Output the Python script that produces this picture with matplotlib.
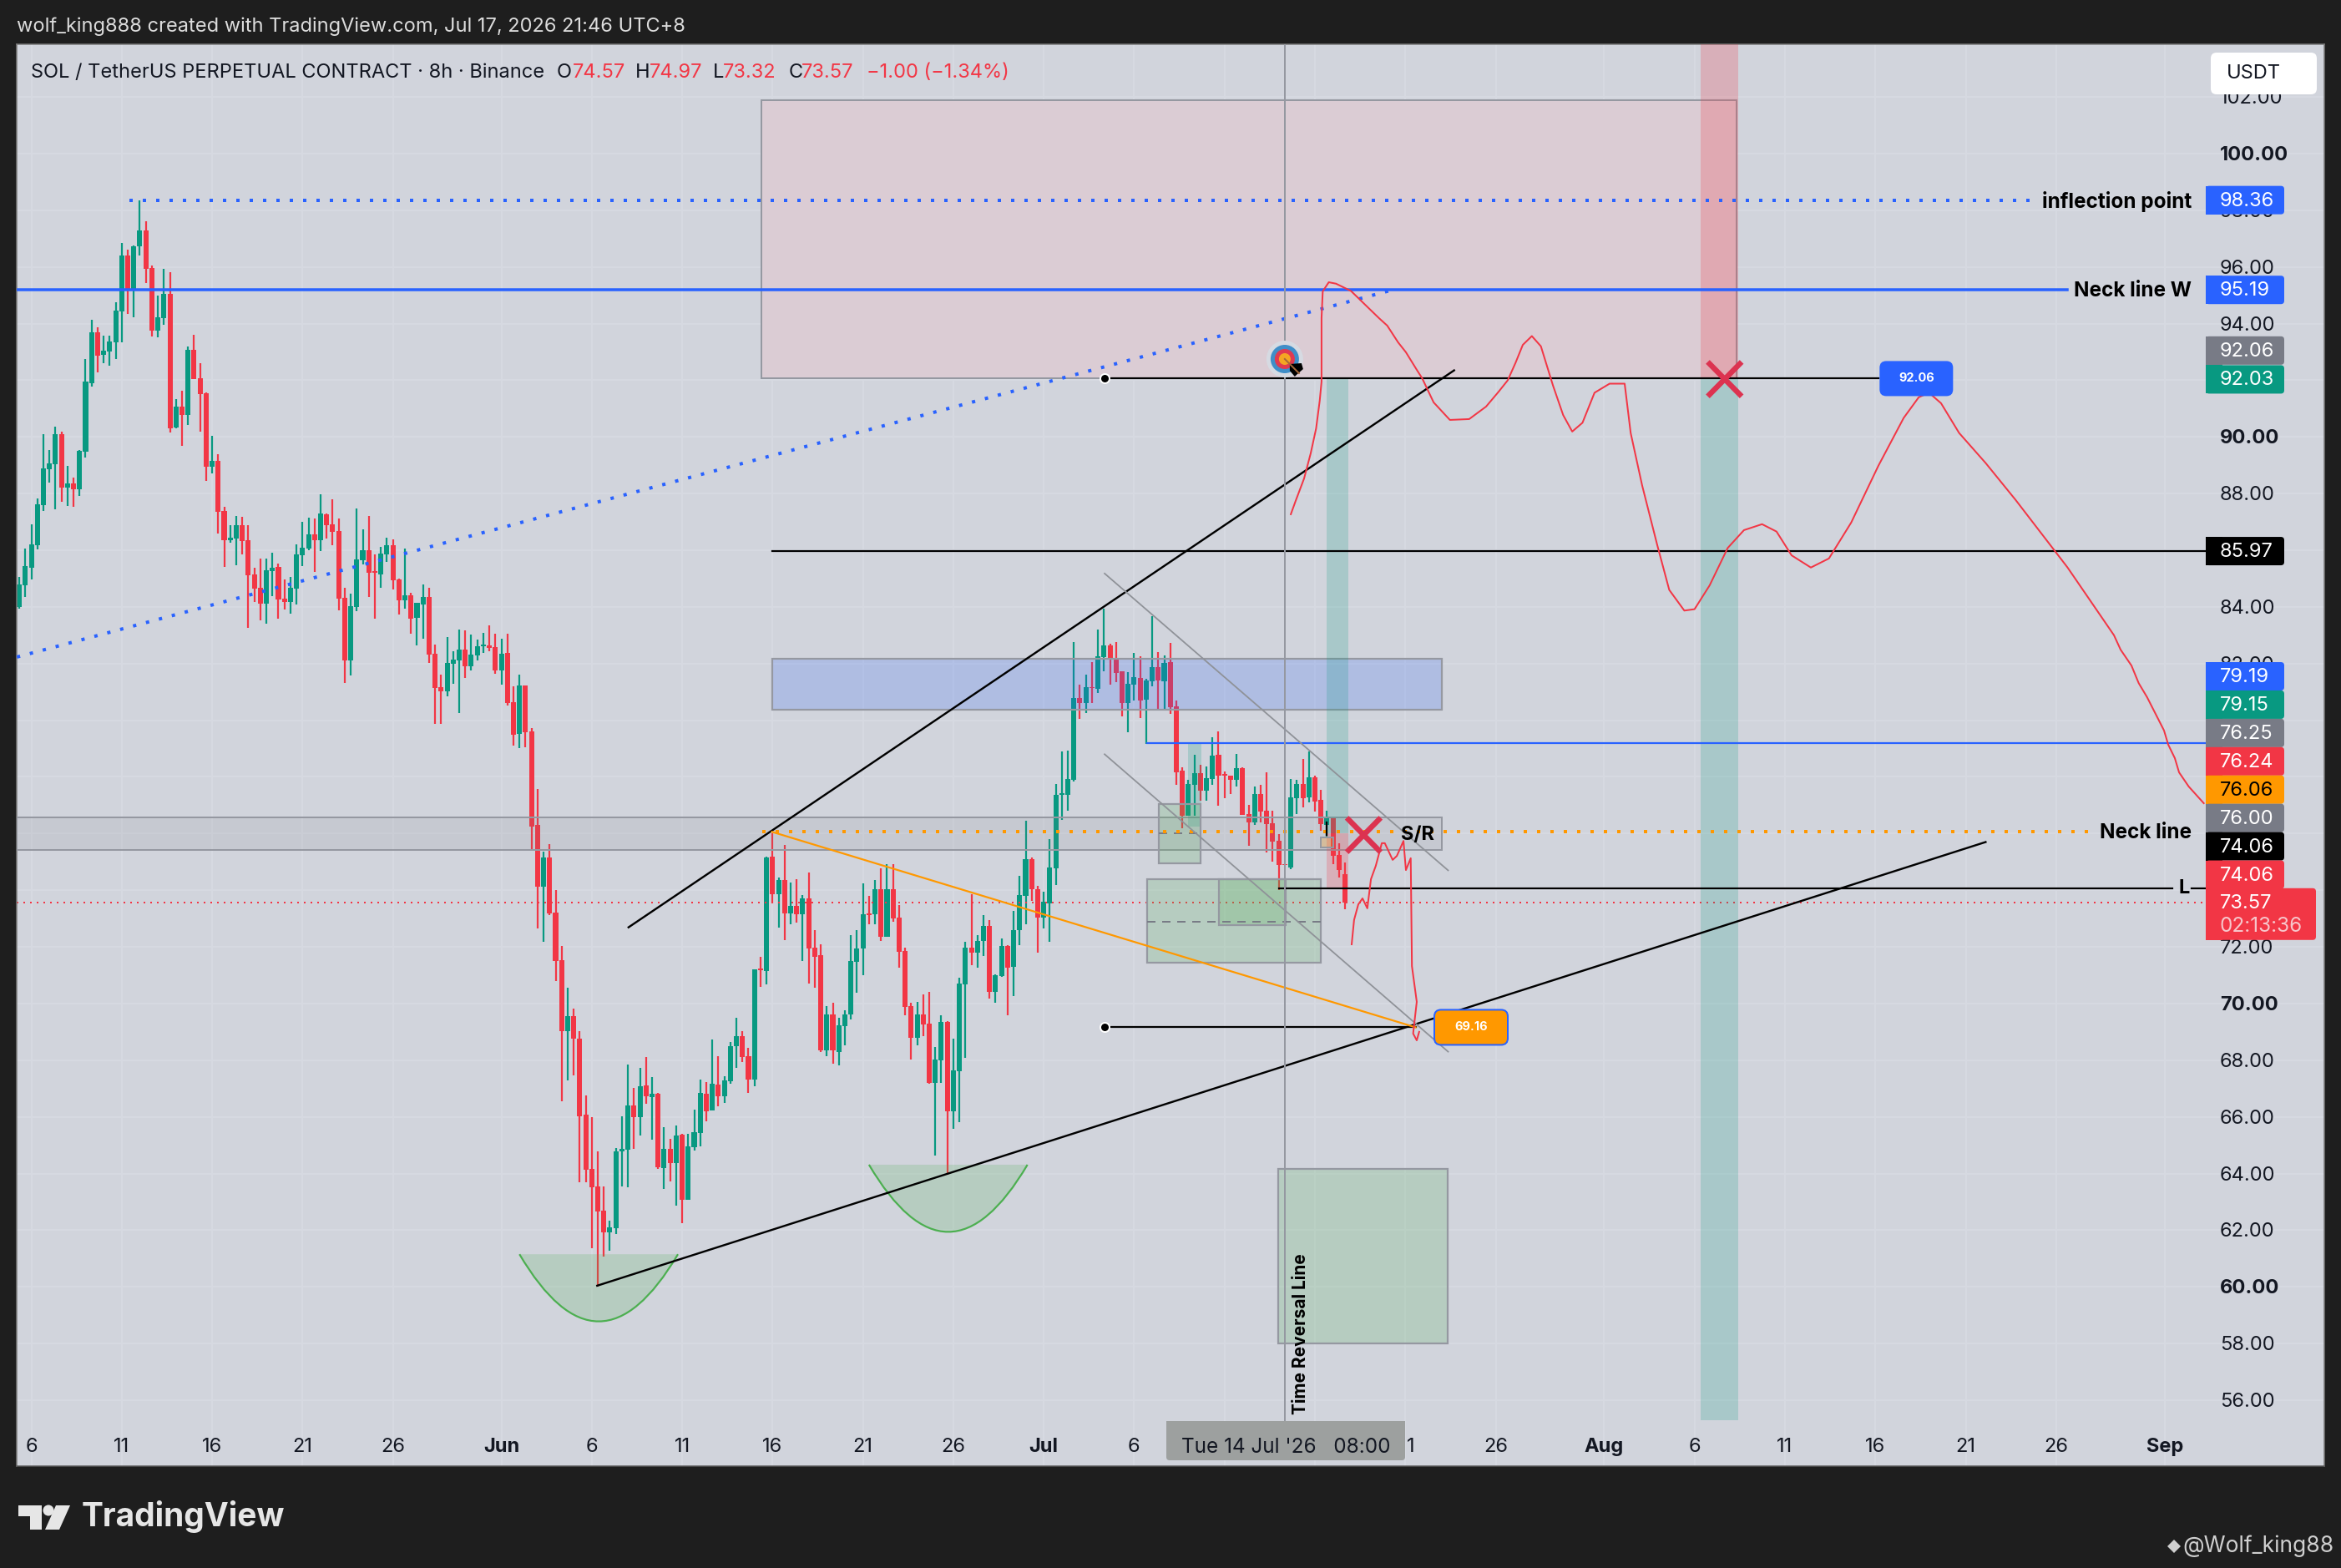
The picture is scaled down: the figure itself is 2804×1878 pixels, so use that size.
import matplotlib
matplotlib.use('Agg')
import matplotlib.pyplot as plt
import numpy as np
import pandas as pd
from matplotlib.patches import Rectangle, FancyBboxPatch, PathPatch, Polygon, Circle
from matplotlib.path import Path

plt.rcParams['font.family'] = ['Inter', 'Roboto', 'DejaVu Sans']

# 8h candles, first one is 5 May 08:00
opens = [84.00, 84.77, 85.39, 86.18, 87.60, 88.86, 89.04, 90.10, 88.21, 88.36,
         88.16, 89.48, 91.89, 93.70, 92.90, 93.01, 93.34, 94.43, 96.41, 95.21,
         96.73, 97.29, 95.97, 93.76, 94.20, 95.05, 90.34, 91.07, 90.78, 93.08,
         92.08, 91.55, 88.95, 89.15, 87.38, 86.36, 86.41, 86.89, 86.36, 85.15,
         84.68, 84.11, 85.26, 85.41, 84.29, 84.17, 84.64, 85.83, 86.05, 86.56,
         86.36, 87.27, 86.91, 86.68, 84.33, 82.12, 84.00, 85.65, 86.00, 85.26,
         85.15, 85.85, 86.18, 84.97, 84.24, 84.41, 83.62, 84.09, 84.35,
         82.34, 81.16, 81.01, 81.99, 82.11, 82.49, 81.90, 82.29, 82.61, 82.64, 82.58,
         81.75, 82.37, 80.63, 79.52, 81.22, 79.60, 76.30, 74.12, 75.15, 73.21,
         71.53, 69.03, 69.56, 68.76, 66.08, 64.16, 63.54, 62.69, 61.92, 62.07,
         64.78, 64.84, 66.40, 65.99, 67.11, 66.70, 66.82, 64.19, 64.87, 64.37,
         65.37, 63.07, 64.93, 65.43, 66.82, 66.23, 67.14, 66.73, 67.26, 68.50,
         68.85, 68.14, 67.32, 71.24, 71.15, 75.18, 73.85, 74.36, 73.18, 73.44,
         73.15, 73.71, 71.97, 71.71, 68.35, 69.62, 68.29, 69.21, 69.62, 71.47,
         71.94, 73.18, 73.15, 74.03, 72.35, 74.03, 73.03, 71.85, 69.91, 68.79,
         69.62, 69.29, 67.20, 68.00, 69.35, 66.20, 67.61, 70.68, 71.97, 71.80,
         72.21, 72.74, 70.41, 70.97, 72.03, 71.30, 72.59, 73.80, 75.09, 74.03,
         73.03, 73.53, 74.77, 77.36, 77.36, 77.89, 80.79, 80.60, 81.16, 81.10,
         82.22, 82.64, 82.14, 81.72, 80.60, 81.25, 81.49, 80.72, 81.37, 81.87,
         81.37, 82.05, 80.48, 78.22, 76.63, 77.72, 78.13, 77.51, 77.92, 78.78,
         78.10, 78.04, 77.89, 78.31, 76.69, 76.39, 77.39, 76.80, 76.36, 75.74,
         74.92, 74.80, 77.24, 77.74, 77.27, 77.98, 77.19, 76.30, 76.53, 75.24, 74.57]
closes = [84.79, 85.44, 86.21, 87.62, 88.89, 89.06, 90.10, 88.21, 88.36, 88.15,
          89.50, 91.95, 93.70, 92.86, 93.05, 93.37, 94.47, 96.41, 95.20, 96.73,
          97.29, 95.93, 93.76, 94.23, 95.05, 90.30, 91.07, 90.78, 93.08, 92.04,
          91.51, 88.95, 89.15, 87.36, 86.36, 86.45, 86.89, 86.32, 85.13, 84.64,
          84.11, 85.30, 85.39, 84.26, 84.17, 84.68, 85.85, 86.09, 86.56, 86.36,
          87.29, 86.89, 86.65, 84.29, 82.12, 84.02, 85.68, 86.00, 85.21, 85.21,
          85.88, 86.18, 84.94, 84.24, 84.41, 83.58, 84.15, 84.35, 82.32,
          81.13, 81.01, 82.02, 82.14, 82.49, 81.90, 82.31, 82.61, 82.67, 82.55, 81.75,
          82.34, 80.60, 79.49, 81.22, 79.57, 76.24, 74.12, 75.15, 73.18, 71.50,
          69.03, 69.56, 68.76, 66.02, 64.13, 63.51, 62.66, 61.92, 62.10, 64.78,
          64.87, 66.40, 65.99, 67.08, 66.73, 66.82, 64.22, 64.87, 64.37, 65.34,
          63.07, 64.96, 65.46, 66.85, 66.20, 67.17, 66.73, 67.29, 68.50, 68.85,
          68.11, 67.32, 71.21, 71.18, 75.15, 73.85, 74.36, 73.18, 73.44, 73.15,
          73.71, 71.94, 71.65, 68.35, 69.62, 68.35, 69.23, 69.62, 71.50, 71.94,
          73.15, 73.12, 74.03, 72.35, 74.03, 73.00, 71.82, 69.88, 68.79, 69.62,
          69.27, 67.20, 68.02, 69.35, 66.20, 67.64, 70.71, 71.97, 71.80, 72.21,
          72.74, 70.41, 71.00, 72.03, 71.27, 72.59, 73.83, 75.09, 74.03, 73.03,
          73.59, 74.80, 77.36, 77.42, 77.92, 80.79, 80.60, 81.16, 81.13, 82.25,
          82.64, 82.14, 81.66, 80.60, 81.28, 81.52, 80.69, 81.40, 81.87, 81.40,
          82.02, 80.46, 78.16, 76.63, 77.74, 78.13, 77.51, 77.96, 78.75, 78.04,
          78.04, 77.89, 78.31, 76.66, 76.39, 77.39, 76.77, 76.33, 75.71, 74.89,
          74.89, 77.27, 77.74, 77.24, 77.98, 77.13, 76.33, 76.53, 75.21, 74.71, 73.57]
highs = [85.06, 86.06, 86.91, 87.83, 90.10, 89.54, 90.36, 90.19, 88.97, 88.57,
         89.54, 92.75, 94.14, 93.87, 93.58, 93.58, 94.76, 96.85, 96.60, 96.76,
         98.35, 97.61, 96.06, 95.00, 95.92, 95.82, 91.33, 91.64, 93.19, 93.61,
         92.61, 91.58, 90.05, 89.39, 87.53, 86.89, 87.21, 87.18, 86.89, 85.39,
         85.70, 85.70, 85.92, 85.53, 84.98, 85.06, 86.21, 87.00, 87.15, 87.12,
         87.98, 87.29, 87.80, 87.12, 84.68, 84.47, 87.47, 86.74, 87.21, 85.85,
         86.12, 86.45, 86.38, 85.00, 86.06, 84.50, 84.15, 84.79, 84.68,
         82.67, 81.61, 82.93, 82.43, 83.20, 83.17, 83.02, 82.84, 83.08, 83.34, 83.05,
         82.87, 83.05, 81.19, 81.61, 81.22, 79.72, 77.58, 75.36, 75.63, 74.00,
         72.03, 70.56, 69.82, 69.03, 66.76, 65.99, 64.78, 63.54, 62.34, 64.90,
         66.02, 67.85, 67.02, 67.73, 68.11, 67.40, 66.85, 65.64, 65.22, 65.70,
         65.40, 65.40, 66.26, 67.32, 67.23, 68.73, 68.14, 67.43, 68.64, 69.50,
         69.03, 68.44, 71.21, 71.65, 75.18, 76.01, 74.45, 75.60, 74.27, 74.39,
         73.83, 74.62, 72.59, 72.09, 69.91, 70.03, 69.50, 69.76, 72.41, 72.59,
         74.24, 73.80, 74.36, 74.77, 74.92, 74.92, 73.47, 71.97, 70.03, 70.06,
         70.32, 70.41, 68.47, 69.59, 69.38, 68.76, 70.91, 72.18, 73.85, 72.41,
         73.12, 72.94, 71.03, 72.29, 72.06, 73.27, 74.51, 76.45, 75.15, 74.15,
         73.94, 75.80, 77.74, 78.90, 78.93, 82.76, 81.25, 81.61, 82.05, 83.20,
         83.94, 82.70, 82.76, 81.72, 81.69, 82.37, 82.25, 81.46, 83.67, 82.40,
         82.28, 82.73, 80.69, 78.34, 77.89, 78.78, 78.43, 78.37, 79.40, 79.60,
         78.19, 78.04, 78.81, 78.34, 77.01, 77.66, 77.72, 78.16, 76.80, 75.98,
         74.92, 77.92, 77.89, 78.63, 78.90, 78.04, 77.54, 76.80, 76.60, 75.65, 74.97]
lows = [83.94, 84.35, 84.97, 86.03, 87.38, 88.39, 87.45, 87.71, 87.56, 87.53,
        87.91, 89.28, 91.78, 92.28, 92.61, 92.52, 92.75, 93.34, 94.34, 94.23,
        96.41, 95.44, 93.54, 93.52, 93.96, 90.16, 90.30, 89.68, 90.42, 92.04,
        90.19, 88.44, 88.71, 86.59, 85.41, 86.27, 85.47, 85.85, 83.26, 84.17,
        83.53, 83.41, 84.38, 83.58, 83.91, 83.76, 84.09, 85.44, 86.00, 85.24,
        85.97, 86.41, 86.18, 83.88, 81.31, 81.58, 83.85, 85.50, 84.35, 83.58,
        84.68, 85.59, 84.62, 83.73, 83.94, 83.05, 82.65, 82.87, 82.03,
        79.87, 79.87, 80.84, 81.28, 80.25, 81.49, 81.75, 82.11, 82.37, 82.43, 81.63,
        81.25, 80.51, 79.11, 79.01, 79.04, 75.45, 72.65, 72.18, 73.12, 70.80,
        66.55, 67.29, 67.46, 63.69, 63.69, 61.37, 60.00, 61.07, 61.28, 61.87,
        63.54, 63.51, 64.87, 65.34, 66.46, 65.19, 64.16, 63.45, 63.72, 62.87,
        62.25, 63.07, 64.81, 64.96, 65.84, 66.23, 66.37, 66.49, 67.17, 67.73,
        67.93, 66.85, 67.08, 70.59, 70.68, 73.53, 72.68, 72.24, 72.80, 72.85,
        71.50, 70.71, 70.56, 68.29, 68.14, 67.88, 67.82, 68.52, 69.44, 70.38,
        71.00, 72.80, 72.80, 72.21, 72.35, 72.88, 71.27, 69.59, 68.02, 68.52,
        68.85, 67.17, 64.63, 67.20, 63.95, 65.58, 65.81, 68.08, 71.36, 71.27,
        71.68, 70.18, 70.03, 70.94, 69.59, 70.27, 72.06, 72.80, 73.62, 71.80,
        72.65, 72.18, 74.18, 76.48, 76.80, 77.83, 80.04, 80.25, 80.60, 80.95,
        81.72, 81.25, 81.34, 80.13, 79.57, 80.69, 80.07, 79.16, 81.19, 80.40,
        80.40, 80.22, 77.72, 76.19, 76.63, 76.63, 77.16, 77.16, 77.72, 76.98,
        77.25, 77.39, 77.66, 76.66, 75.57, 76.30, 76.39, 75.33, 75.01, 74.00,
        74.89, 74.74, 76.68, 76.92, 77.10, 76.77, 76.10, 75.89, 74.92, 74.45, 73.32]

tick_dates = ['2026-05-06', '2026-05-11', '2026-05-16', '2026-05-21', '2026-05-26',
              '2026-06-01', '2026-06-06', '2026-06-11', '2026-06-16', '2026-06-21', '2026-06-26',
              '2026-07-01', '2026-07-06', '2026-07-11', '2026-07-16', '2026-07-21', '2026-07-26',
              '2026-08-01', '2026-08-06', '2026-08-11', '2026-08-16', '2026-08-21', '2026-08-26',
              '2026-09-01']
# the grey date tag hides these two completely
hidden_dates = ['2026-07-11', '2026-07-16']
price_ticks = list(range(56, 104, 2))
# these sit entirely under the price tags
hidden_prices = [92, 86, 80, 78, 76, 74]

# projected path, (bar, price)
path_bars = [211.0, 211.8, 213.2, 214.3, 215.2, 215.8, 216.1, 216.1, 216.3, 217.3, 218.5, 221.0,
             225.6, 227.0, 228.8, 230.1, 231.9, 232.8, 234.7, 237.4, 240.6, 243.4, 245.5, 247.0, 248.3,
             249.5, 251.0, 252.5, 254.5, 256.2, 257.7, 259.4, 261.4, 263.9, 266.4, 267.4, 269.3, 271.8,
             273.8, 276.3, 278.0, 280.5, 283.5, 286.2, 289.2, 291.6, 294.1, 297.3, 300.3, 304.0, 308.5,
             312.7, 315.2, 316.9, 318.9, 321.9, 326.3, 331.3,
             339.9, 347.6, 348.7, 350.5, 351.7, 353.1, 355.9, 356.6, 357.7, 358.4, 360.0, 362.5]
path_prices = [87.27, 87.74, 88.53, 89.42, 90.30, 91.28, 91.95, 94.20, 95.14, 95.46, 95.41, 95.15,
               94.20, 93.93, 93.34, 92.99, 92.37, 92.07, 91.22, 90.60, 90.63, 91.07, 91.60, 92.00, 92.62,
               93.25, 93.56, 93.20, 91.82, 90.77, 90.19, 90.50, 91.56, 91.88, 91.88, 90.14, 88.29, 86.19,
               84.60, 83.87, 83.92, 84.76, 86.08, 86.71, 86.92, 86.66, 85.82, 85.39, 85.71, 86.98, 88.98,
               90.67, 91.40, 91.56, 91.19, 90.14, 89.08, 87.77,
               85.39, 83.00, 82.49, 81.93, 81.31, 80.81, 79.64, 79.14, 78.66, 78.16, 77.66, 77.07]
short_path_bars = [221.1, 221.5, 222.2, 222.9, 223.7, 224.3, 225.1, 226.1, 226.6, 227.9, 228.6, 229.7,
                   230.1, 230.9, 231.1, 231.9, 231.3, 231.9, 232.3]
short_path_prices = [72.09, 72.95, 73.50, 73.71, 73.36, 74.39, 74.86, 75.66, 75.66, 75.07, 75.21, 75.74,
                     74.71, 75.13, 71.32, 70.06, 68.94, 68.70, 69.00]

# trend lines (bar0, price0, bar1, price1)
black_trends = [(101.1, 72.69, 238.1, 92.35), (95.9, 60.04, 326.3, 75.70)]
grey_trends = [(180.1, 85.18, 237.1, 74.70), (180.1, 78.80, 237.1, 68.30)]
orange_trend = (124.9, 76.06, 231.7, 69.16)
blue_dotted_trend = (-0.4, 82.23, 227.2, 95.15)

# price levels
level_inflection = 98.36
level_neck_w = 95.19
level_target = 92.06
level_black = 85.97
level_blue = 79.19
level_neck = 76.06
level_l = 74.06
level_orange = 69.16
last_price = 73.57

# zones (bar0, bar1, price low, price high)
green_boxes = [(189.1, 196.0, 74.95, 77.04), (187.2, 216.0, 71.44, 74.39),
               (199.1, 210.1, 72.77, 74.39), (208.9, 237.1, 58.00, 64.16)]
pink_box = (123.2, 284.9, 92.06, 101.89)
blue_box = (124.9, 236.1, 80.37, 82.17)
sr_box = (-0.4, 236.0, 75.42, 76.57)
teal_zones = [(279.0, 285.2, 55.3, 92.06), (217.0, 220.5, 76.0, 92.06), (194.0, 196.1, 76.25, 79.15)]
red_zones = [(279.0, 285.2, 92.06, 103.9), (217.0, 220.5, 74.06, 76.0)]
bowls = [(83.0, 109.3, 61.15, 58.78), (141.0, 167.3, 64.31, 61.94)]

tag_labels = ['98.36', '95.19', '92.06', '92.03', '85.97', '79.19', '79.15', '76.25', '76.24', '76.06', '76.00', '74.06', '74.06']
tag_slots = [98.36, 95.19, 93.05, 92.03, 85.97, 81.55, 80.55, 79.55, 78.55, 77.55, 76.55, 75.55, 74.55]
tag_colors = ['#2962ff', '#2962ff', '#787b86', '#089981', '#000000', '#2962ff', '#089981', '#787b86', '#f23645', '#ff9800', '#787b86', '#000000', '#f23645']
tag_text_colors = ['white'] * 9 + ['black'] + ['white'] * 3

W, H = 2804, 1878
LEFT, RIGHT, TOP, BOTTOM = 20, 2784, 53, 1756
UP, DOWN = '#089981', '#f23645'
EDGE = '#9598a1'
BLUE = '#2962ff'
ORANGE = '#ff9800'
PANEL = '#d1d4dc'
DARK = '#1e1e1e'


def px(n):
    # line widths are given in picture pixels
    return n * 0.72


fig = plt.figure(figsize=(W / 100, H / 100), dpi=100, facecolor=DARK)
ax = fig.add_axes([LEFT / W, 1 - BOTTOM / H, (RIGHT - LEFT) / W, (BOTTOM - TOP) / H], facecolor=PANEL)
ax.set_xlim((LEFT - 23.1) / 7.218, (RIGHT - 23.1) / 7.218)
ax.set_ylim(105.423 - BOTTOM * 0.029472, 105.423 - TOP * 0.029472)
ax.set_xticks([])
ax.set_yticks([])
for s in ax.spines.values():
    s.set_color('#7a7a7a')
    s.set_linewidth(px(1.5))
ax.spines['bottom'].set_color('#555555')

base = pd.Timestamp('2026-05-05 08:00')
tick_bars = [(pd.Timestamp(d) - base) / pd.Timedelta(hours=8) for d in tick_dates]
tick_names = [pd.Timestamp(d).strftime('%b') if pd.Timestamp(d).day == 1 else str(pd.Timestamp(d).day) for d in tick_dates]

# faint grid
ax.vlines(tick_bars, 53, 104, color='#d6d9e1', lw=px(2), zorder=0.5)
ax.hlines(price_ticks, -1, 383, color='#d6d9e1', lw=px(2), zorder=0.5)


def zone(box, zorder=3, **kw):
    b0, b1, p0, p1 = box
    ax.add_patch(Rectangle((b0, p0), b1 - b0, p1 - p0, zorder=zorder, **kw))


# pink box sits under everything
zone(pink_box, zorder=1, fc='#dbccd4', ec=EDGE, lw=px(2))

# candles
x = np.arange(len(opens))
opens = np.array(opens)
closes = np.array(closes)
highs = np.array(highs)
lows = np.array(lows)
colors = np.where(closes > opens, UP, DOWN)
ax.vlines(x, lows, highs, color=colors, lw=px(2.2), zorder=2)
ax.bar(x, np.maximum(np.abs(closes - opens), 0.04), bottom=np.minimum(opens, closes), width=0.84, color=colors, zorder=2)

# zones
zone(blue_box, fc=(0.16, 0.38, 1, 0.2), ec=EDGE, lw=px(2.2))
zone(sr_box, fc=(0.47, 0.48, 0.525, 0.12), ec=EDGE, lw=px(2))
for z in teal_zones:
    zone(z, fc=(0.03, 0.6, 0.506, 0.2), ec='none', lw=0)
for z in red_zones:
    zone(z, fc=(0.95, 0.21, 0.27, 0.23), ec='none', lw=0)
for b in green_boxes:
    zone(b, fc=(0.3, 0.686, 0.314, 0.2), ec=EDGE, lw=px(2.2))
zone((216.0, 218.0, 75.5, 75.85), fc=(1, 0.6, 0, 0.25), ec=EDGE, lw=px(2))
ax.hlines([76.0, 72.9], [189.1, 187.2], [196.0, 216.0], color='#787b86', lw=px(2), linestyles=(0, (5, 4)), zorder=3)

# bowls
for b0, b1, p_top, p_bottom in bowls:
    verts = [(b0, p_top), ((b0 + b1) / 2, 2 * p_bottom - p_top), (b1, p_top)]
    codes = [Path.MOVETO, Path.CURVE3, Path.CURVE3]
    ax.add_patch(PathPatch(Path(verts, codes), fc=(0.3, 0.686, 0.314, 0.2), ec='none', zorder=3))
    ax.add_patch(PathPatch(Path(verts, codes), fc='none', ec='#4caf50', lw=px(2.2), zorder=3))

# level lines
ax.plot([18.3, 333.8], [level_inflection] * 2, color=BLUE, lw=px(4), ls=(0, (1, 3)), dash_capstyle='butt', zorder=3)
ax.plot([-0.4, 339.9], [level_neck_w] * 2, color=BLUE, lw=px(3.5), zorder=3)
ax.plot([180.1, 308.5], [level_target] * 2, color='black', lw=px(2.2), zorder=3)
ax.plot([124.9, 362.7], [level_black] * 2, color='black', lw=px(2.2), zorder=3)
ax.plot([187.1, 362.7], [level_blue] * 2, color=BLUE, lw=px(2.2), zorder=3)
ax.plot([123.3, 343.7], [level_neck] * 2, color=ORANGE, lw=px(4), ls=(0, (1, 3)), dash_capstyle='butt', zorder=3)
ax.plot([209.1, 357.3], [level_l] * 2, color='black', lw=px(2.2), zorder=3)
ax.plot([360.5, 362.7], [level_l] * 2, color='black', lw=px(2.2), zorder=3)
ax.plot([180.1, 231.7], [level_orange] * 2, color='black', lw=px(2.2), zorder=3)
ax.plot([-0.4, 362.7], [last_price] * 2, color=DOWN, lw=px(2), ls=(0, (1, 3)), dash_capstyle='butt', zorder=2.5)
ax.plot([217, 217], [75.95, 76.4], color='black', lw=px(2.2), zorder=3)
ax.scatter([180.1, 180.1], [level_target, level_orange], s=px(11) ** 2, c='black', edgecolors='white', linewidths=px(2), zorder=4)

# trend lines
for b0, p0, b1, p1 in black_trends:
    ax.plot([b0, b1], [p0, p1], color='black', lw=px(2.4), zorder=3)
for b0, p0, b1, p1 in grey_trends:
    ax.plot([b0, b1], [p0, p1], color='#8f9298', lw=px(1.8), zorder=3)
ax.plot(orange_trend[::2], orange_trend[1::2], color=ORANGE, lw=px(2.2), zorder=3)
ax.plot(blue_dotted_trend[::2], blue_dotted_trend[1::2], color=BLUE, lw=px(4), ls=(0, (1, 3)), dash_capstyle='butt', zorder=3)

# projected red paths
ax.plot(path_bars, path_prices, color=DOWN, lw=px(2), zorder=3.5)
ax.plot(short_path_bars, short_path_prices, color=DOWN, lw=px(2), zorder=3.5)

# time line
ax.plot([210, 210], [55.2, 104], color=EDGE, lw=px(2), zorder=3)
ax.text(212.6, 55.5, 'Time Reversal Line', rotation=90, ha='center', va='bottom', fontsize=15, fontweight='bold', color='#000000', zorder=4)

# red crosses
for b, p in [(223.1, 75.95), (283.0, 92.04)]:
    ax.plot([b - 2.5, b + 2.5], [p + 0.54, p - 0.54], color='#dc3350', lw=px(6.5), zorder=4)
    ax.plot([b - 2.5, b + 2.5], [p - 0.54, p + 0.54], color='#dc3350', lw=px(6.5), zorder=4)

# labels on the lines
label_x = (2625 - 23.1) / 7.218
ax.text(label_x, level_inflection - 0.04, 'inflection point', ha='right', va='center', fontsize=17.5, fontweight='bold', color='#000000', zorder=4)
ax.text(label_x, level_neck_w - 0.04, 'Neck line W', ha='right', va='center', fontsize=17.5, fontweight='bold', color='#000000', zorder=4)
ax.text(label_x, level_neck - 0.04, 'Neck line', ha='right', va='center', fontsize=17.5, fontweight='bold', color='#000000', zorder=4)
ax.text(359.2, level_l, 'L', ha='center', va='center', fontsize=17, fontweight='bold', color='#000000', zorder=4)
ax.text(232.0, 75.95, 'S/R', ha='center', va='center', fontsize=17, fontweight='bold', color='#000000', zorder=4)

# everything below is screen furniture, drawn in picture pixels
over = fig.add_axes([0, 0, 1, 1], facecolor='none')
over.set_xlim(0, W)
over.set_ylim(H, 0)
over.axis('off')


def bar_px(b):
    return ax.transData.transform((b, 60))[0]


def price_px(p):
    return H - ax.transData.transform((0, p))[1]


def tag(x0, y0, w, h, color, radius=4, ec='none', lw=0):
    over.add_patch(FancyBboxPatch((x0, y0), w, h, boxstyle=f'round,pad=0,rounding_size={radius}', fc=color, ec=ec, lw=lw, zorder=5))


# target icon
cx, cy = bar_px(210), price_px(92.75)
for d, c in [(44, '#d6dae2'), (34, '#3f8ec8'), (24, '#e03a50'), (14, '#f5a623')]:
    over.add_patch(Circle((cx, cy), d / 2, fc=c, ec='none', zorder=4))
over.plot([cx, cx + 17], [cy, cy + 17], color='#a5683a', lw=px(2), zorder=4.2)
over.add_patch(Polygon([(cx + 6, cy + 6), (cx + 20, cy + 5), (cx + 22, cy + 12), (cx + 14, cy + 19), (cx + 12, cy + 21), (cx + 6, cy + 14)], fc='black', ec='none', zorder=4.1))

# price scale numbers
for p in price_ticks:
    if p in hidden_prices:
        continue
    over.text(2659, price_px(p) + 2, f'{p:.2f}', ha='left', va='center', fontsize=17, color='#131722',
              fontweight='bold' if p % 10 == 0 else 'normal', zorder=4.5)

# price scale tags
for lab, slot, c, tc in zip(tag_labels, tag_slots, tag_colors, tag_text_colors):
    y = price_px(slot)
    tag(2642, y - 17, 94, 34, c)
    over.add_patch(Rectangle((2642, y - 17), 20, 34, fc=c, ec='none', zorder=5))
    over.text(2659, y + 1, lab, ha='left', va='center', fontsize=17, color=tc, zorder=6)
y_last = price_px(last_price)
tag(2642, y_last - 17, 132, 62, DOWN)
over.add_patch(Rectangle((2642, y_last - 17), 20, 62, fc=DOWN, ec='none', zorder=5))
over.text(2659, y_last + 1, '73.57', ha='left', va='center', fontsize=17, color='white', zorder=6)
over.text(2659, y_last + 29, '02:13:36', ha='left', va='center', fontsize=17.5, color='#f7c6cb', zorder=6)

# tags on the chart
x_tag, y_tag = bar_px(314.8), price_px(level_target)
tag(x_tag - 44, y_tag - 21, 88, 42, BLUE, radius=8)
over.text(x_tag, y_tag, '92.06', ha='center', va='center', fontsize=10.5, fontweight='bold', color='white', zorder=6)
x_tag, y_tag = (1718 + 1806) / 2, price_px(level_orange)
tag(x_tag - 44, y_tag - 21, 88, 42, ORANGE, radius=8, ec=BLUE, lw=px(2))
over.text(x_tag, y_tag, '69.16', ha='center', va='center', fontsize=10.5, fontweight='bold', color='white', zorder=6)

# USDT button
tag(2648, 63, 127, 50, 'white', radius=7)
over.text(2699, 88, 'USDT', ha='center', va='center', fontsize=17, color='#131722', zorder=6)

# time scale
for d, b, name in zip(tick_dates, tick_bars, tick_names):
    if d in hidden_dates:
        continue
    if d == '2026-07-21':
        # only the last digit of this one shows past the date tag
        over.text(bar_px(b) + 7, 1733, '1', ha='center', va='center', fontsize=17, color='#131722', zorder=4.5)
        continue
    over.text(bar_px(b), 1733, name, ha='center', va='center', fontsize=17, color='#131722',
              fontweight='bold' if not name.isdigit() else 'normal', zorder=4.5)
tag(1397, 1702, 286, 47, '#9da09f', radius=4)
over.add_patch(Rectangle((1397, 1702), 286, 20, fc='#9da09f', ec='none', zorder=5))
over.text(1540, 1733, "Tue 14 Jul '26   08:00", ha='center', va='center', fontsize=17.5, color='#131722', zorder=6)

# header and legend
over.text(20, 32, 'wolf_king888 created with TradingView.com, Jul 17, 2026 21:46 UTC+8', ha='left', va='center', fontsize=17, color='#dcdcdc')
over.text(37, 87, 'SOL / TetherUS PERPETUAL CONTRACT · 8h · Binance', ha='left', va='center', fontsize=17, color='#131722', zorder=6)
for xp, s, c in [(667, 'O', '#131722'), (686, '74.57', DOWN), (761, 'H', '#131722'), (778, '74.97', DOWN),
                 (854, 'L', '#131722'), (866, '73.32', DOWN), (945, 'C', '#131722'), (960, '73.57', DOWN),
                 (1038, '−1.00 (−1.34%)', DOWN)]:
    over.text(xp, 87, s, ha='left', va='center', fontsize=17, color=c, zorder=6)

# footer
LOGO = '#e6e6e6'
over.add_patch(Polygon([(22, 1803), (50, 1803), (50, 1832), (36, 1832), (36, 1816), (22, 1816)], fc=LOGO, ec='none'))
over.add_patch(Circle((58, 1809), 6.5, fc=LOGO, ec='none'))
over.add_patch(Polygon([(67, 1803), (84, 1803), (71, 1832), (54, 1832)], fc=LOGO, ec='none'))
over.text(98, 1817, 'TradingView', ha='left', va='center', fontsize=28, fontweight='bold', color=LOGO)
over.add_patch(Polygon([(2604, 1844), (2612, 1852), (2604, 1860), (2596, 1852)], fc='#cfcfcf', ec='none'))
over.text(2614, 1852, '@Wolf_king88', ha='left', va='center', fontsize=19, color='#cfcfcf')

fig.savefig('out.png', dpi=100, facecolor=DARK)
